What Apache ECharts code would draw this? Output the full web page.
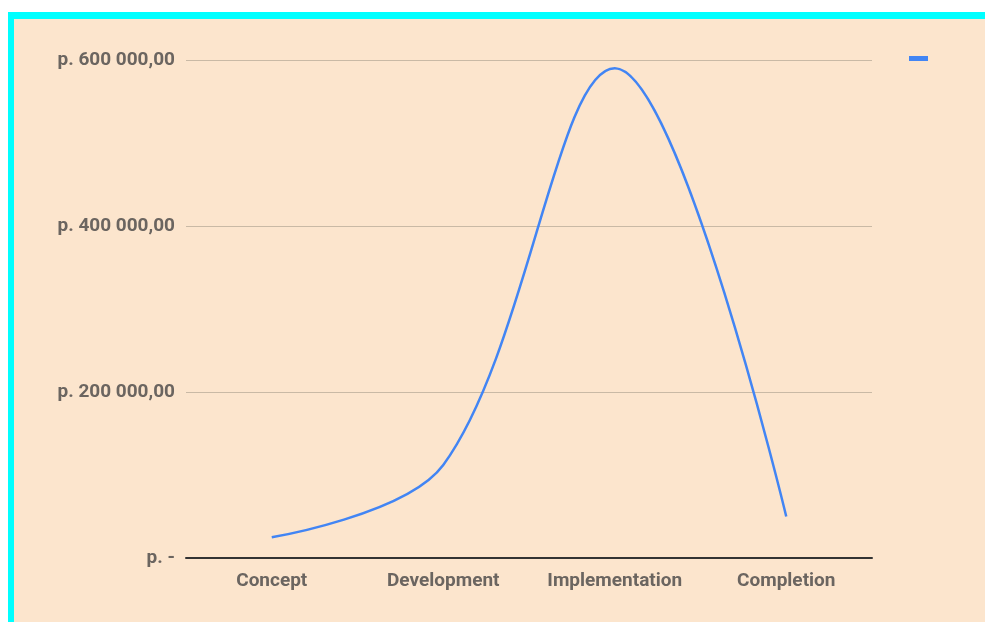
<!DOCTYPE html>
<html>
<head>
<meta charset="utf-8">
<script src="https://cdn.jsdelivr.net/npm/echarts@6/dist/echarts.min.js"></script>
<style>
  html, body { margin: 0; padding: 0; background: #ffffff; width: 985px; height: 622px; overflow: hidden; }
  #frame {
    position: absolute; left: 8px; top: 12px; right: 0; bottom: 0;
    background: #FCE5CD;
    border-left: 6px solid #00FFFF;
    border-top: 7px solid #00FFFF;
  }
  #chart { position: absolute; left: 0; top: 0; width: 985px; height: 622px; }
</style>
</head>
<body>
<div id="frame"></div>
<div id="chart"></div>
<script>
// Project phases and their cost
const phases = ['Concept', 'Development', 'Implementation', 'Completion'];
const costs = [25000, 112000, 590000, 50000];
const yTicks = [0, 200000, 400000, 600000];

function formatCost(v) {
  if (v === 0) return 'p. -';
  const whole = Math.round(v).toString().replace(/\B(?=(\d{3})+(?!\d))/g, ' ');
  return 'p. ' + whole + ',00';
}

const chart = echarts.init(document.getElementById('chart'), null, { renderer: 'canvas' });

const labelStyle = {
  color: '#6b6560',
  fontFamily: 'Roboto',
  fontWeight: 'bold',
  fontSize: 19
};

chart.setOption({
  backgroundColor: 'transparent',
  animation: false,
  grid: { left: 186, right: 113, top: 60, bottom: 64, containLabel: false },
  legend: {
    left: 904, top: 51,
    icon: 'rect',
    itemWidth: 19, itemHeight: 5,
    data: [' '],
    textStyle: { fontSize: 1, color: 'transparent' },
    selectedMode: false
  },
  xAxis: {
    type: 'category',
    data: phases,
    boundaryGap: true,
    axisLine: { show: true, lineStyle: { color: '#333333', width: 2 } },
    axisTick: { show: false },
    axisLabel: Object.assign({ margin: 14, interval: 0, hideOverlap: false }, labelStyle),
    splitLine: { show: false }
  },
  yAxis: {
    type: 'value',
    min: yTicks[0],
    max: yTicks[yTicks.length - 1],
    interval: yTicks[1] - yTicks[0],
    axisLine: { show: false },
    axisTick: { show: false },
    axisLabel: Object.assign({ margin: 11, formatter: formatCost }, labelStyle),
    splitLine: { show: true, lineStyle: { color: '#c9b9a5', width: 1 } }
  },
  series: [{
    name: ' ',
    type: 'line',
    data: costs,
    smooth: 0.35,
    showSymbol: false,
    symbol: 'none',
    itemStyle: { color: '#4285F4' },
    lineStyle: { color: '#4285F4', width: 2.5 }
  }]
});
</script>
</body>
</html>
